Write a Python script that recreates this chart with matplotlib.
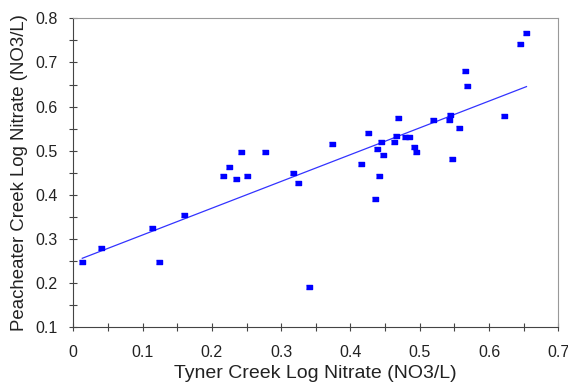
import numpy as np
import matplotlib.pyplot as plt
from matplotlib.ticker import MultipleLocator

plt.rcParams['font.family'] = ['Liberation Sans', 'DejaVu Sans']

# Tyner Creek (x) vs Peacheater Creek (y), log nitrate
tyner = [0.013, 0.040, 0.113, 0.123, 0.160, 0.216, 0.225, 0.235, 0.242, 0.250,
         0.276, 0.317, 0.325, 0.340, 0.374, 0.415, 0.425, 0.436, 0.439, 0.441,
         0.444, 0.447, 0.463, 0.466, 0.468, 0.478, 0.485, 0.492, 0.494, 0.519,
         0.542, 0.544, 0.546, 0.556, 0.566, 0.568, 0.622, 0.644, 0.654]
peach = [0.248, 0.279, 0.324, 0.248, 0.353, 0.442, 0.462, 0.435, 0.498, 0.443,
         0.496, 0.450, 0.427, 0.191, 0.515, 0.470, 0.540, 0.391, 0.503, 0.442,
         0.520, 0.490, 0.520, 0.534, 0.574, 0.532, 0.532, 0.509, 0.496, 0.569,
         0.569, 0.581, 0.480, 0.552, 0.680, 0.646, 0.578, 0.742, 0.766]
xticks = ['0', '0.1', '0.2', '0.3', '0.4', '0.5', '0.6', '0.7']
yticks = ['0.1', '0.2', '0.3', '0.4', '0.5', '0.6', '0.7', '0.8']

x = np.array(tyner)
y = np.array(peach)
m, b = np.polyfit(x, y, 1)
xl = np.array([x.min(), x.max()])

fig = plt.figure(figsize=(5.68, 3.92), dpi=100)
ax = fig.add_axes([0.129, 0.166, 0.854, 0.787])

rect = [(-1.5, -1), (1.5, -1), (1.5, 1), (-1.5, 1)]
ax.plot(xl, m * xl + b, color='#3333ff', lw=0.9)
ax.scatter(x, y, marker=rect, s=22, color='#0000ff', zorder=3)

ax.set_xlim(0, 0.7)
ax.set_ylim(0.1, 0.8)
ax.set_xticks(np.arange(0, 0.75, 0.1))
ax.set_xticklabels(xticks)
ax.set_yticks(np.arange(0.1, 0.85, 0.1))
ax.set_yticklabels(yticks)
ax.xaxis.set_minor_locator(MultipleLocator(0.05))
ax.yaxis.set_minor_locator(MultipleLocator(0.05))
ax.tick_params(which='both', direction='inout', length=6, width=0.8, colors='#444444')
ax.tick_params(which='major', labelcolor='#222222', labelsize=11.5)
ax.tick_params(axis='x', which='major', pad=10)
ax.tick_params(axis='y', which='major', pad=8)
for s in ['top', 'right']:
    ax.spines[s].set_color('#999999')
for s in ['left', 'bottom']:
    ax.spines[s].set_color('#444444')

ax.set_xlabel('Tyner Creek Log Nitrate (NO3/L)', fontsize=14, color='#222222')
ax.set_ylabel('Peacheater Creek Log Nitrate (NO3/L)', fontsize=13.4, color='#222222')
ax.xaxis.set_label_coords(0.5, -0.125)
ax.yaxis.set_label_coords(-0.093, 0.5)

fig.savefig('out.png', dpi=100)
